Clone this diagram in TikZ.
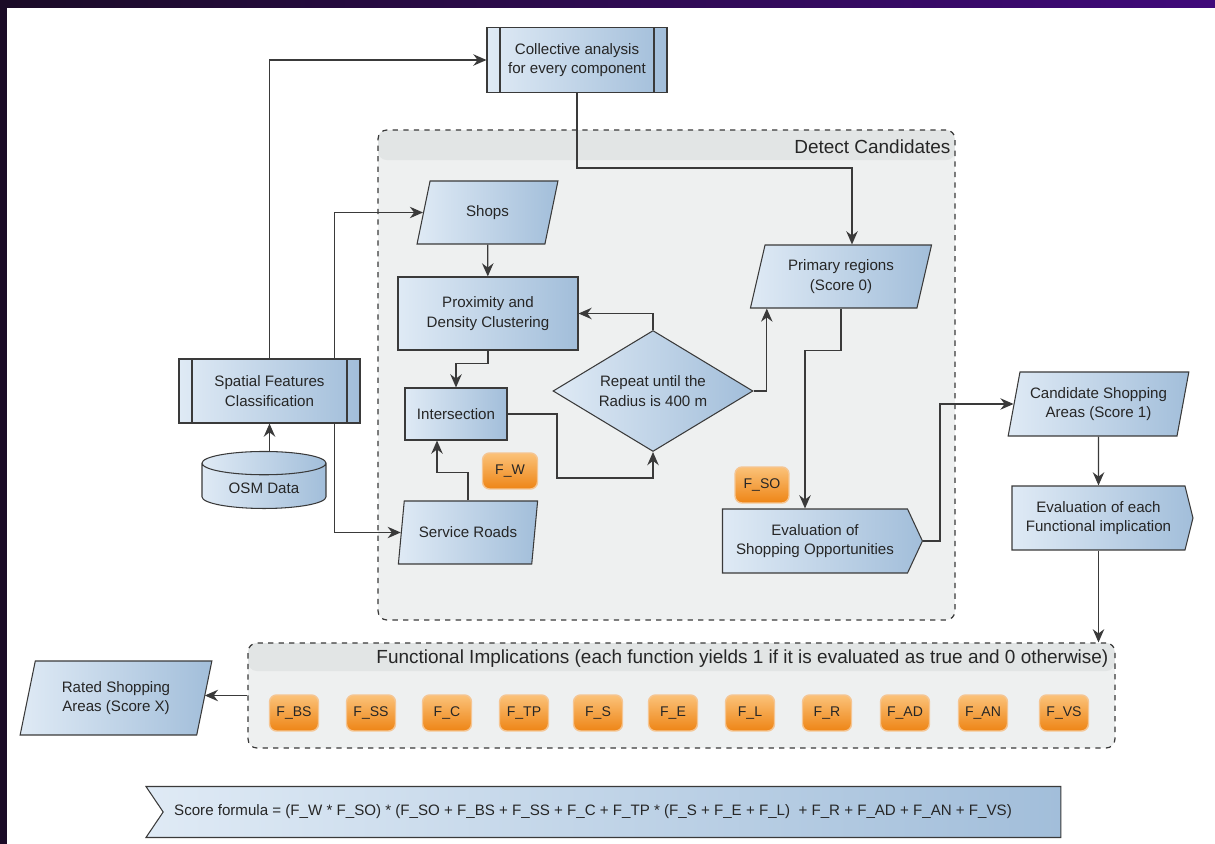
\documentclass[tikz,border=0pt]{standalone}
\usepackage{fontspec}
\setmainfont{Liberation Sans}
\usepackage{xcolor}
\usepackage{tikz}
\usetikzlibrary{arrows.meta,positioning,shapes.geometric,shapes.symbols}

\definecolor{boxlt}{HTML}{DFEAF5}
\definecolor{boxdk}{HTML}{A2BEDA}
\definecolor{edge}{HTML}{3A3A3A}
\definecolor{orlt}{HTML}{FBC279}
\definecolor{ordk}{HTML}{EE8516}
\definecolor{orrim}{HTML}{F5C592}
\definecolor{panel}{HTML}{EEF0F0}
\definecolor{band}{HTML}{E2E5E5}
\definecolor{ink}{HTML}{262626}
\definecolor{frameA}{HTML}{1B0B27}
\definecolor{frameB}{HTML}{40097A}

\tikzset{
  blk/.style={draw=edge, line width=0.6pt, left color=boxlt, right color=boxdk,
    text=ink, align=center, inner sep=2pt},
  proc/.style={blk, rectangle, path picture={
    \draw[edge, line width=0.6pt]
      ([xshift=0.26cm]path picture bounding box.north west) -- ([xshift=0.26cm]path picture bounding box.south west)
      ([xshift=-0.26cm]path picture bounding box.north east) -- ([xshift=-0.26cm]path picture bounding box.south east);}},
  para/.style={blk, trapezium, trapezium left angle=75, trapezium right angle=105,
    trapezium stretches=true},
  dbase/.style={blk, cylinder, shape border rotate=90, aspect=0.3},
  evl/.style={blk, signal, signal to=east},
  badge/.style={draw=orrim, line width=0.8pt, rounded corners=4pt, top color=orlt,
    bottom color=ordk, text=ink, minimum width=0.98cm, minimum height=0.72cm,
    inner sep=1pt, font=\fontsize{8}{9}\selectfont},
  grp/.style={draw=edge, dashed, line width=0.7pt, rounded corners=5pt, fill=panel,
    path picture={\fill[band] (path picture bounding box.north west) rectangle
      ([yshift=-#1]path picture bounding box.north east);}},
  ttl/.style={inner sep=1pt, text=ink, font=\fontsize{10.8}{12}\selectfont},
  conn/.style={draw=edge, line width=0.75pt, -{Stealth[length=7.5pt,width=6.5pt]}}
}

\begin{document}
\begin{tikzpicture}[x=0.02cm, y=-0.02cm, font=\fontsize{8.6}{11}\selectfont]
\useasboundingbox (0,0) rectangle (1215,844);
\fill[white] (0,0) rectangle (1215,844);
\fill[left color=frameA, right color=frameB] (0,0) rectangle (1215,8);
\fill[frameA] (0,0) rectangle (7,844);

% containers
\node[grp=0.6cm, minimum width=11.54cm, minimum height=9.8cm] (dc) at (666.5,375) {};
\node[ttl, anchor=east] (dct) at ([xshift=-0.06cm, yshift=-0.34cm]dc.north east) {Detect Candidates};
\node[grp=0.56cm, minimum width=17.34cm, minimum height=2.1cm] (fi) at (681.5,695.5) {};
\node[ttl, anchor=east] (fit) at ([xshift=-0.1cm, yshift=-0.33cm]fi.north east)
  {Functional Implications (each function yields 1 if it is evaluated as true and 0 otherwise)};

% outside the containers
\node[proc, minimum width=3.6cm, minimum height=1.3cm] (ca) at (577,60) {Collective analysis\\for every component};
\node[proc, minimum width=3.62cm, minimum height=1.28cm] (sf) at (269.5,391) {Spatial Features\\Classification};
\node[dbase, minimum width=2.48cm, minimum height=1.14cm] (osm) at (264,488) {OSM Data};
\node[para, minimum width=3.62cm, minimum height=1.28cm] (csa) at (1098.5,404) {Candidate Shopping\\Areas (Score 1)};
\node[evl, signal pointer angle=152, minimum width=3.62cm, minimum height=1.28cm] (efi) at (1098.5,518) {Evaluation of each\\Functional implication};
\node[para, minimum width=3.84cm, minimum height=1.48cm] (rsa) at (116,698) {Rated Shopping\\Areas (Score X)};
\node[blk, signal, signal from=west, signal to=nowhere, signal pointer angle=112,
  minimum width=18.3cm, minimum height=1.02cm] (sc) at (612,812)
  {\hspace*{-0.76cm}Score formula = (F\_W * F\_SO) * (F\_SO + F\_BS + F\_SS + F\_C + F\_TP * (F\_S + F\_E + F\_L) \ + F\_R + F\_AD + F\_AN + F\_VS)};

% detect candidates
\node[para, minimum width=2.82cm, minimum height=1.26cm] (shops) at (487.5,212.5) {Shops};
\node[blk, minimum width=3.6cm, minimum height=1.46cm] (prox) at (488,313.5) {Proximity and\\Density Clustering};
\node[blk, minimum width=2.04cm, minimum height=1.04cm] (inter) at (456,414) {Intersection};
\node[blk, diamond, aspect=1.65, minimum width=4cm, minimum height=2.42cm] (rep) at (653,391) {Repeat until the\\Radius is 400 m};
\node[para, minimum width=2.8cm, minimum height=1.26cm] (sr) at (468,532.5) {Service Roads};
\node[badge, minimum width=1.1cm] (fw) at (510,471) {F\_W};
\node[para, minimum width=3.64cm, minimum height=1.26cm] (pr) at (841,276.5) {Primary regions\\(Score 0)};
\node[badge, minimum width=1.08cm] (fso) at (762,485) {F\_SO};
\node[evl, signal pointer angle=130, minimum width=4cm, minimum height=1.28cm] (eso) at (815,541) {Evaluation of\\Shopping Opportunities};

% functional implications
\node[badge] (fbs) at (294,713) {F\_BS};
\node[badge] (fss) at (371,713) {F\_SS};
\node[badge] (fc) at (447,713) {F\_C};
\node[badge] (ftp) at (524,713) {F\_TP};
\node[badge] (fs) at (598,713) {F\_S};
\node[badge] (fe) at (673,713) {F\_E};
\node[badge] (fl) at (750,713) {F\_L};
\node[badge] (fr) at (827,713) {F\_R};
\node[badge] (fad) at (905,713) {F\_AD};
\node[badge] (fan) at (983,713) {F\_AN};
\node[badge] (fvs) at (1064,713) {F\_VS};

\coordinate (k1) at (852,168);
\coordinate (k2) at (557,478);
\draw[conn] (sf.north) |- (ca.west);
\draw[conn] ([xshift=1.3cm]sf.north) |- (shops);
\draw[conn] ([xshift=1.3cm]sf.south) |- (sr);
\draw[conn] (sf.south |- osm.north) -- (sf.south);
\draw[conn] (ca.south) |- (k1) -- (k1 |- pr.north);
\draw[conn] (shops) -- (prox);
\draw[conn] (prox.south) -- ++(0,13) -| (inter.north);
\draw[conn] (sr.north) -- ++(0,-28) -| ([xshift=-0.38cm]inter.south);
\draw[conn] (inter.east) -| (k2) -| (rep.south);
\draw[conn] (rep.north) |- (prox.east);
\draw[conn] (rep.east) -| ([xshift=0.34cm]pr.bottom left corner);
\draw[conn] (pr.south) -- ++(0,42) -| ([xshift=-0.2cm]eso.north);
\draw[conn] (eso.east) -- ++(17,0) |- (csa);
\draw[conn] (csa) -- (efi);
\draw[conn] (efi.south) -- (efi.south |- fi.north);
\draw[conn] (fi.west) -- (fi.west -| rsa.east);
\end{tikzpicture}
\end{document}
